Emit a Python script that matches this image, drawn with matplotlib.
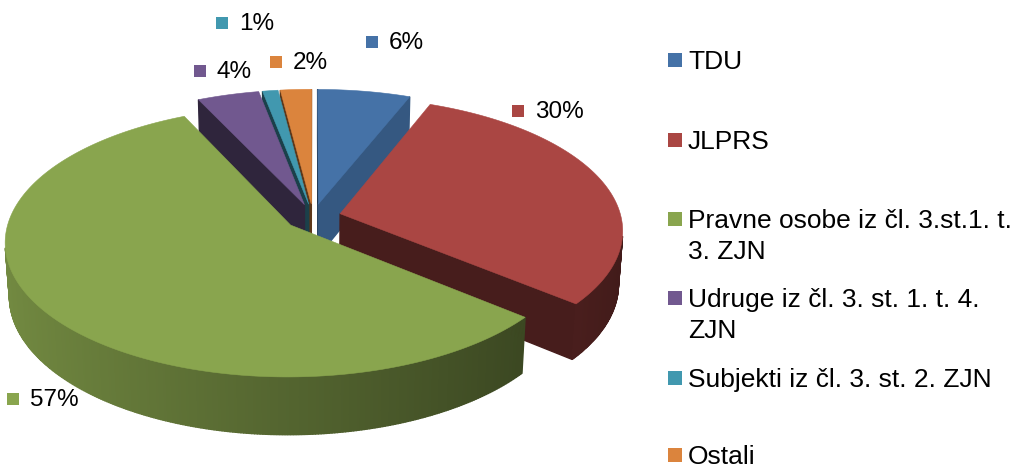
import numpy as np
import matplotlib
matplotlib.use("Agg")
import matplotlib.pyplot as plt
from matplotlib.patches import Polygon, Rectangle
from matplotlib.colors import to_rgb

# ---------------- data ----------------
categories = ["TDU", "JLPRS", "Pravne osobe iz čl. 3.st.1. t.\n3. ZJN",
              "Udruge iz čl. 3. st. 1. t. 4.\nZJN", "Subjekti iz čl. 3. st. 2. ZJN", "Ostali"]
values = [6, 30, 57, 4, 1, 2]
pct_labels = ["6%", "30%", "57%", "4%", "1%", "2%"]
colors = ["#4572A7", "#AA4643", "#89A54E", "#71588F", "#4198AF", "#DB843D"]

# label anchor positions (pixel coords: square centre x, y)
label_pos = [(372, 42), (518, 111), (13, 399), (200, 71), (222, 23), (276, 62)]
legend_base = [69, 149, 228, 307, 387, 464]

W, H = 1019, 468
plt.rcParams['font.family'] = ['Liberation Sans', 'DejaVu Sans']
fig = plt.figure(figsize=(W / 100, H / 100), dpi=100)
ax = fig.add_axes([0, 0, 1, 1])
ax.set_xlim(0, W)
ax.set_ylim(H, 0)
ax.axis('off')

# ---------------- 3D projection ----------------
elev = np.radians(27.9)
Dcam = 7.35
F = 2065.0
depth_h = 0.215
explode = 0.1
cx, cy = 313, 217
cam = np.array([0.0, Dcam * np.sin(elev), Dcam * np.cos(elev)])


def proj(p):
    x, y, z = p
    d = Dcam - z * np.cos(elev) - y * np.sin(elev)
    v = y * np.cos(elev) - z * np.sin(elev)
    return (cx + F * x / d, cy - F * v / d)


def dist(pts):
    c = np.mean(np.array(pts), axis=0)
    return np.linalg.norm(cam - c)


def shade(col, k):
    r, g, b = to_rgb(col)
    return (min(1, r * k), min(1, g * k), min(1, b * k))


def visible(normal, pt):
    return np.dot(normal, cam - np.array(pt)) > 0


total = float(sum(values))
bounds = np.concatenate([[0], np.cumsum(values)]) / total * 360.0

walls = []   # (distance, polygon2d, color)
tops = []
for i, v in enumerate(values):
    a0, a1 = np.radians(bounds[i]), np.radians(bounds[i + 1])
    am = 0.5 * (a0 + a1)
    ox, oz = explode * np.sin(am), -explode * np.cos(am)
    th = np.linspace(a0, a1, max(3, int(2 * np.degrees(a1 - a0)) + 2))
    top_arc = [(ox + np.sin(t), 0.0, oz - np.cos(t)) for t in th]
    bot_arc = [(ox + np.sin(t), -depth_h, oz - np.cos(t)) for t in th]
    apex_t = (ox, 0.0, oz)
    apex_b = (ox, -depth_h, oz)
    col = colors[i]

    # top face
    tops.append((dist([apex_t] + top_arc), [proj(apex_t)] + [proj(p) for p in top_arc], col))

    # outer curved wall
    for j in range(len(th) - 1):
        tm = 0.5 * (th[j] + th[j + 1])
        n = np.array([np.sin(tm), 0, -np.cos(tm)])
        quad = [top_arc[j], top_arc[j + 1], bot_arc[j + 1], bot_arc[j]]
        if visible(n, np.mean(quad, axis=0)):
            k = 0.61 - 0.23 * np.sin(tm)
            walls.append((dist(quad), [proj(p) for p in quad], shade(col, k)))

    # radial cut faces
    for ang, sgn, ta, ba in [(a0, -1, top_arc[0], bot_arc[0]), (a1, 1, top_arc[-1], bot_arc[-1])]:
        na = ang + sgn * np.pi / 2
        n = np.array([np.sin(na), 0, -np.cos(na)])
        quad = [apex_t, ta, ba, apex_b]
        if visible(n, np.mean(quad, axis=0)):
            k = 0.77 if np.sin(na) > 0 else 0.42
            walls.append((dist(quad), [proj(p) for p in quad], shade(col, k)))

for d, poly, c in sorted(walls, key=lambda w: -w[0]):
    ax.add_patch(Polygon(poly, closed=True, facecolor=c, edgecolor=c, lw=1.0))
for d, poly, c in sorted(tops, key=lambda w: -w[0]):
    ax.add_patch(Polygon(poly, closed=True, facecolor=c, edgecolor=c, lw=0.4))

# ---------------- data labels ----------------
sq = 12
for (x, y), lab, c in zip(label_pos, pct_labels, colors):
    ax.add_patch(Rectangle((x - sq / 2, y - sq / 2), sq, sq, facecolor=c, edgecolor='none'))
    ax.text(x + 17, y + 1, lab, fontsize=17.5, va='center', ha='left', color='black')

# ---------------- legend ----------------
lsq = 14
line_gap = 31
for name, yb, c in zip(categories, legend_base, colors):
    ax.add_patch(Rectangle((668, yb - 9 - lsq / 2), lsq, lsq, facecolor=c, edgecolor='none'))
    for k, line in enumerate(name.split("\n")):
        ax.text(688, yb + k * line_gap, line, fontsize=19, va='baseline', ha='left',
                color='black')

fig.savefig("out.png", dpi=100)
